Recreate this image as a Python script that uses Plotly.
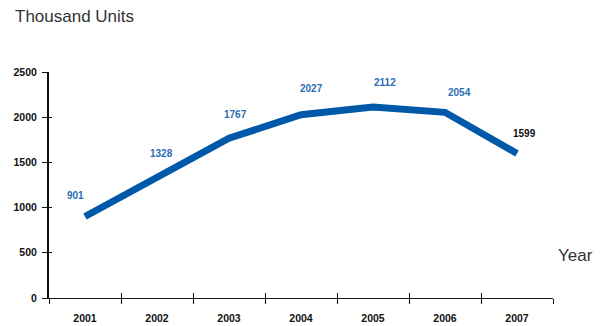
import plotly.graph_objects as go

years = ["2001", "2002", "2003", "2004", "2005", "2006", "2007"]
units = [901, 1328, 1767, 2027, 2112, 2054, 1599]
label_colors = ["#2a6db5"] * 6 + ["#111111"]
label_xshift = [-10, 4, 6, 10, 12, 14, 7]
label_yshift = [21, 24, 24, 26, 25, 20, 20]

y_ticks = [0, 500, 1000, 1500, 2000, 2500]

fig = go.Figure()
fig.add_trace(go.Scatter(
    x=years, y=units, mode="lines",
    line=dict(color="#0058a8", width=7),
    hoverinfo="skip", showlegend=False,
))
# invisible trace on the overlay axes so their crossing ticks render
fig.add_trace(go.Scatter(
    x=years, y=units, mode="lines", xaxis="x2", yaxis="y2",
    line=dict(color="rgba(0,0,0,0)", width=0),
    hoverinfo="skip", showlegend=False,
))

tick_font = dict(family="Liberation Sans, Arial", size=10.5, color="#111111")

fig.update_layout(
    width=601, height=326,
    margin=dict(l=49, r=48, t=72, b=28),
    paper_bgcolor="white", plot_bgcolor="white",
    xaxis=dict(
        type="category", range=[-0.5, 6.5], tickson="boundaries",
        ticks="outside", ticklen=5, tickwidth=1, tickcolor="#111",
        showline=True, linecolor="#111", linewidth=1,
        showgrid=False, zeroline=False, automargin=False,
        tickfont=tick_font, tickprefix="<b>", ticksuffix="</b>",
        ticklabelstandoff=10,
    ),
    yaxis=dict(
        range=[0, 2500], tickvals=y_ticks,
        ticktext=[f"<b>{t}</b>" for t in y_ticks],
        ticks="outside", ticklen=5, tickwidth=1, tickcolor="#111",
        showline=True, linecolor="#111", linewidth=2,
        showgrid=False, zeroline=False, automargin=False,
        tickfont=tick_font, ticklabelstandoff=3,
    ),
    xaxis2=dict(
        type="category", range=[-0.5, 6.5], tickson="boundaries",
        overlaying="x", anchor="y", side="bottom",
        ticks="inside", ticklen=5, tickwidth=1, tickcolor="#111",
        showticklabels=False, showline=False, showgrid=False, zeroline=False,
    ),
    yaxis2=dict(
        range=[0, 2500], tickvals=y_ticks, overlaying="y", anchor="x", side="left",
        ticks="inside", ticklen=3, tickwidth=1, tickcolor="#111",
        showticklabels=False, showline=False, showgrid=False, zeroline=False,
    ),
)

# value labels above each point
for i, (v, c, dx, dy) in enumerate(zip(units, label_colors, label_xshift, label_yshift)):
    fig.add_annotation(
        x=i, y=v, xref="x", yref="y", text=f"<b>{v}</b>", showarrow=False,
        xshift=dx, yshift=dy,
        font=dict(family="Liberation Sans, Arial", size=10, color=c),
    )

fig.add_annotation(
    text="Thousand Units", xref="paper", yref="paper",
    x=(13 - 49) / 504, y=1 + (72 - 16) / 226, xanchor="left", yanchor="middle",
    showarrow=False,
    font=dict(family="Liberation Sans, Arial", size=17, color="#333333"),
)
fig.add_annotation(
    text="Year", xref="paper", yref="paper",
    x=1 + 3 / 504, y=(298 - 255) / 226, xanchor="left", yanchor="middle",
    showarrow=False,
    font=dict(family="Liberation Sans, Arial", size=17, color="#333333"),
)

fig.write_html("out.html")
